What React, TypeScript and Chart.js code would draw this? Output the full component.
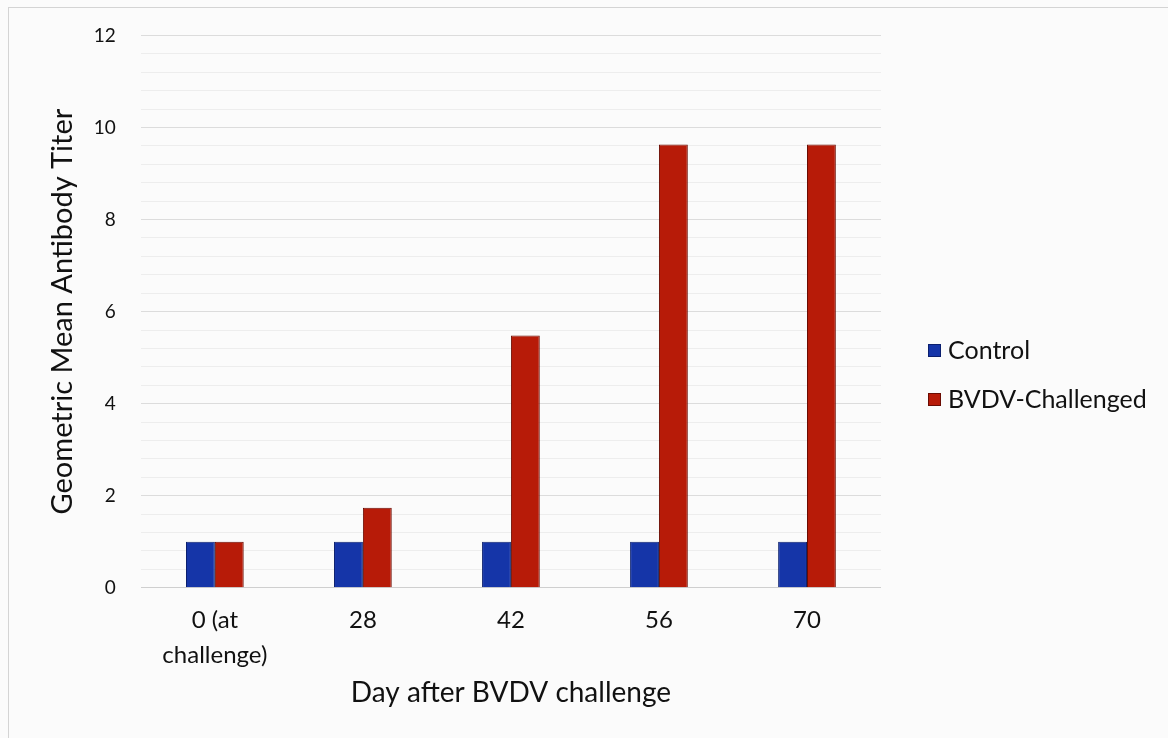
import React, { useEffect, useRef } from "react";
import { Chart, registerables } from "chart.js";

Chart.register(...registerables);

const categories: (string | string[])[] = [["0 (at", "challenge)"], "28", "42", "56", "70"];
const controlValues = [1, 1, 1, 1, 1];
const challengedValues = [1, 1.74, 5.48, 9.63, 9.63];
const seriesNames = ["Control", "BVDV-Challenged"];
const seriesColors = ["#1535a8", "#b71b08"];
const seriesBorders = ["#0b1f6e", "#6a0c03"];
const yTitle = "Geometric Mean Antibody Titer";
const xTitle = "Day after BVDV challenge";

const FONT = "Lato, 'Open Sans', sans-serif";

const legendPlugin = {
  id: "sideLegend",
  afterDraw(chart: any) {
    const { ctx, chartArea } = chart;
    ctx.save();
    ctx.font = `25px ${FONT}`;
    ctx.textBaseline = "middle";
    ctx.textAlign = "left";
    const x0 = chartArea.right + 47;
    const ys = [344, 393];
    seriesNames.forEach((name, i) => {
      const y = ys[i];
      ctx.fillStyle = seriesColors[i];
      ctx.fillRect(x0, y - 7, 13, 13);
      ctx.strokeStyle = seriesBorders[i];
      ctx.lineWidth = 1;
      ctx.strokeRect(x0 + 0.5, y - 6.5, 12, 12);
      ctx.fillStyle = "#111";
      ctx.fillText(name, x0 + 20, y);
    });
    ctx.restore();
  },
};

export default function App() {
  const ref = useRef<HTMLCanvasElement>(null);
  useEffect(() => {
    document.body.style.margin = "0";
    const ctx = ref.current!;
    const chart = new Chart(ctx, {
      type: "bar",
      data: {
        labels: categories,
        datasets: [
          {
            label: seriesNames[0],
            data: controlValues,
            backgroundColor: seriesColors[0],
            borderColor: seriesBorders[0],
            borderWidth: 1,
          },
          {
            label: seriesNames[1],
            data: challengedValues,
            backgroundColor: seriesColors[1],
            borderColor: seriesBorders[1],
            borderWidth: 1,
          },
        ],
      },
      plugins: [legendPlugin],
      options: {
        animation: false,
        responsive: false,
        maintainAspectRatio: false,
        layout: { padding: { left: 37, right: 287, top: 11, bottom: 28 } },
        datasets: { bar: { categoryPercentage: 0.39, barPercentage: 1 } },
        plugins: {
          legend: { display: false },
          tooltip: { enabled: false },
        },
        scales: {
          x: {
            afterFit: (s: any) => {
              s.height += 3;
            },
            grid: { display: false },
            border: { display: false },
            ticks: {
              color: "#111",
              font: { family: FONT, size: 24, lineHeight: 1.45 },
              padding: 7,
              maxRotation: 0,
            },
            title: {
              display: true,
              text: xTitle,
              color: "#111",
              font: { family: FONT, size: 28 },
              padding: { top: -6, bottom: 0 },
            },
          },
          y: {
            min: 0,
            max: 12,
            afterFit: (s: any) => {
              s.width += 8;
            },
            border: { display: false },
            ticks: {
              stepSize: 0.4,
              autoSkip: false,
              color: "#111",
              font: { family: FONT, size: 19 },
              padding: 17,
              callback: (v: any) => {
                const n = Number(v);
                const r = Math.round(n);
                return Math.abs(n - r) < 1e-6 && r % 2 === 0 ? String(r) : "";
              },
            },
            grid: {
              drawTicks: true,
              tickLength: 8,
              tickColor: "rgba(0,0,0,0)",
              color: (c: any) => {
                const n = c.tick ? c.tick.value : 0;
                const r = Math.round(n);
                if (Math.abs(n - r) < 1e-6 && r % 2 === 0) return r === 0 ? "#cfcfcf" : "#dcdcdc";
                return "#ededed";
              },
            },
            title: {
              display: true,
              text: yTitle,
              color: "#111",
              font: { family: FONT, size: 29 },
              padding: { top: 0, bottom: -11 },
            },
          },
        },
      },
    });
    return () => chart.destroy();
  }, []);
  return (
    <div style={{ position: "relative", width: 1168, height: 738, background: "#fbfbfb" }}>
      <div
        style={{
          position: "absolute",
          left: 8,
          top: 7,
          width: 1160,
          height: 731,
          borderLeft: "1px solid #d4d4d4",
          borderTop: "1px solid #d4d4d4",
          boxSizing: "border-box",
        }}
      />
      <canvas ref={ref} width={1160} height={731} style={{ position: "absolute", left: 8, top: 7 }} />
    </div>
  );
}
